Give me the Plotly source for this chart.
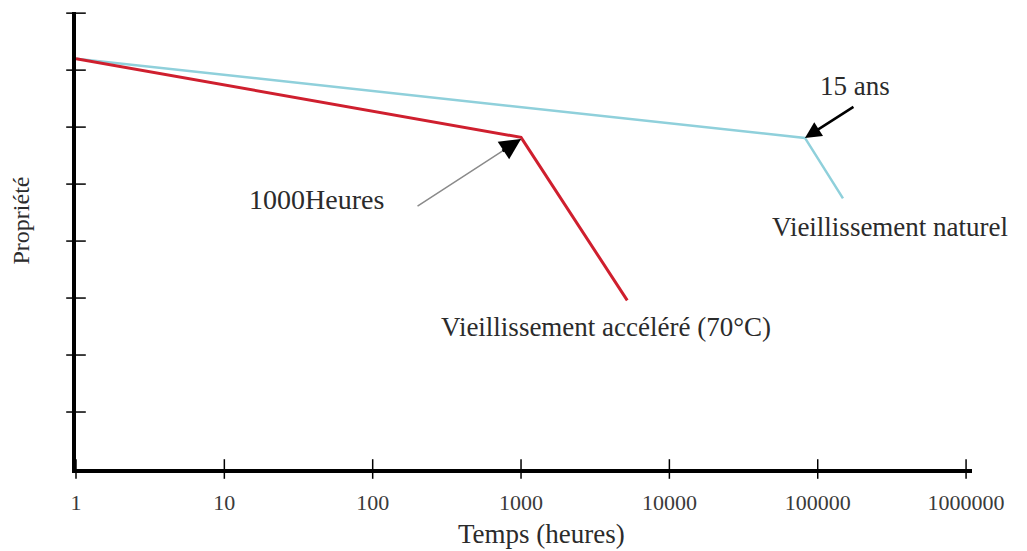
import plotly.graph_objects as go
import numpy as np

# Data
temps_accel = [1, 1000, 5200]
prop_accel = [7.2, 5.82, 2.96]
temps_nat = [1, 82000, 148000]
prop_nat = [7.2, 5.81, 4.75]

x_tick_vals = [1, 10, 100, 1000, 10000, 100000, 1000000]
x_tick_text = ["1", "10", "100", "1000", "10000", "100000", "1000000"]
y_tick_vals = [1, 2, 3, 4, 5, 6, 7, 8]

SERIF = "Liberation Serif, Times New Roman, serif"
TXT = "#2b2b2b"

fig = go.Figure()

fig.add_trace(go.Scatter(x=temps_nat, y=prop_nat, mode="lines",
                         line=dict(color="#8fd0db", width=2.5), showlegend=False,
                         hoverinfo="skip"))
fig.add_trace(go.Scatter(x=temps_accel, y=prop_accel, mode="lines",
                         line=dict(color="#cf1f2e", width=3), showlegend=False,
                         hoverinfo="skip"))

# crossing tick marks
fig.add_trace(go.Scatter(x=x_tick_vals, y=[0] * len(x_tick_vals), mode="markers",
                         marker=dict(symbol="line-ns-open", size=14, color="black",
                                     line=dict(color="black", width=1.5)),
                         cliponaxis=False, showlegend=False, hoverinfo="skip"))
fig.add_trace(go.Scatter(x=[1] * len(y_tick_vals), y=y_tick_vals, mode="markers",
                         marker=dict(symbol="line-ew-open", size=14, color="black",
                                     line=dict(color="black", width=1.5)),
                         cliponaxis=False, showlegend=False, hoverinfo="skip"))

L, R, T, B = 76, 55, 12, 82

fig.update_layout(
    width=1027, height=551,
    margin=dict(l=L, r=R, t=T, b=B),
    paper_bgcolor="white", plot_bgcolor="white",
    font=dict(family=SERIF, color=TXT),
    xaxis=dict(type="log", range=[0, 6.04], showgrid=False, zeroline=False,
               showline=True, linecolor="black", linewidth=3.5, automargin=False,
               tickmode="array", tickvals=x_tick_vals, ticktext=x_tick_text,
               ticks="outside", ticklen=11, tickcolor="rgba(0,0,0,0)",
               tickfont=dict(family=SERIF, size=22, color="#3a3a3a")),
    yaxis=dict(range=[0, 8.02], showgrid=False, zeroline=False, automargin=False,
               showline=True, linecolor="black", linewidth=3.5,
               showticklabels=False, ticks=""),
)

ann = []
# axis titles
ann.append(dict(xref="paper", yref="paper", x=0.5, y=0, yshift=-65, xshift=17,
                text="Temps (heures)", showarrow=False,
                font=dict(size=27, color=TXT, family=SERIF),
                xanchor="center", yanchor="middle"))
ann.append(dict(xref="paper", yref="paper", x=0, y=0.5, xshift=-56, yshift=20,
                text="Propriété", showarrow=False, textangle=-90,
                font=dict(size=24, color=TXT, family=SERIF),
                xanchor="center", yanchor="middle"))

# labels
ann.append(dict(xref="x", yref="y", x=np.log10(5200), y=2.96, xshift=-21, yshift=-27,
                text="Vieillissement accéléré (70°C)", showarrow=False,
                font=dict(size=27, color=TXT, family=SERIF),
                xanchor="center", yanchor="middle"))
ann.append(dict(xref="x", yref="y", x=np.log10(148000), y=4.75, xshift=47, yshift=-29,
                text="Vieillissement naturel", showarrow=False,
                font=dict(size=27, color=TXT, family=SERIF),
                xanchor="center", yanchor="middle"))
ann.append(dict(xref="x", yref="y", x=np.log10(82000), y=5.81, xshift=50, yshift=52,
                text="15 ans", showarrow=False,
                font=dict(size=27, color=TXT, family=SERIF),
                xanchor="center", yanchor="middle"))
ann.append(dict(xref="x", yref="y", x=3, y=5.82, xshift=-205, yshift=-62,
                text="1000Heures", showarrow=False,
                font=dict(size=28, color=TXT, family=SERIF),
                xanchor="center", yanchor="middle"))

# arrows
ann.append(dict(xref="x", yref="y", x=np.log10(82000), y=5.81,
                ax=50, ay=-32, text="", showarrow=True,
                arrowhead=2, arrowsize=1.3, arrowwidth=2.5, arrowcolor="black"))
ann.append(dict(xref="x", yref="y", x=3, y=5.79,
                ax=-105, ay=68, text="", showarrow=True,
                arrowhead=0, arrowwidth=1.5, arrowcolor="#8a8a8a"))
ann.append(dict(xref="x", yref="y", x=3, y=5.79,
                ax=-20, ay=13, text="", showarrow=True,
                arrowhead=2, arrowsize=1.4, arrowwidth=3, arrowcolor="black"))

fig.update_layout(annotations=ann)

fig.write_html("out.html", config={"displayModeBar": False},
               post_script="document.body.style.margin='0px';")
